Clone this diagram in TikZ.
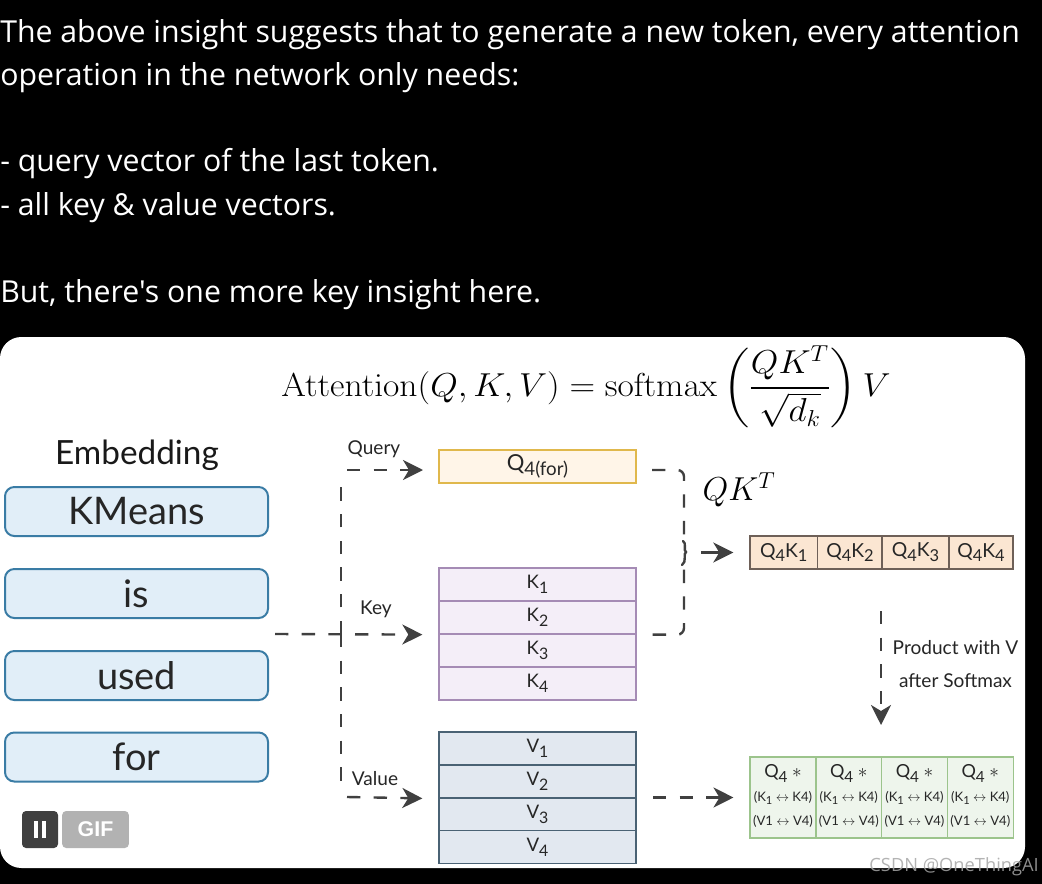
\documentclass[tikz,border=0pt]{standalone}
\usepackage{amsmath}
\usepackage[no-math]{fontspec}
\usetikzlibrary{arrows.meta,calc}
\newfontfamily\uifont{Open Sans}
\newfontfamily\handfont{Lato}
\newfontfamily\badgefont{Liberation Sans}
\newcommand{\sbx}[1]{\raisebox{-0.5ex}{\scalebox{0.85}{#1}}}
\definecolor{boxfill}{HTML}{E1EEF8}
\definecolor{boxline}{HTML}{3A7CA5}
\definecolor{qfill}{HTML}{FFF5E8}
\definecolor{qline}{HTML}{E0B84C}
\definecolor{kfill}{HTML}{F4EEF8}
\definecolor{kline}{HTML}{A58BB5}
\definecolor{vfill}{HTML}{E2E8F0}
\definecolor{vline}{HTML}{4A6274}
\definecolor{pfill}{HTML}{FBE6D2}
\definecolor{pline}{HTML}{6E6058}
\definecolor{gfill}{HTML}{EEF5EC}
\definecolor{gline}{HTML}{9CC48C}
\definecolor{flowc}{HTML}{404040}
\tikzset{
  x=0.75pt,y=-0.75pt,
  uitext/.style={anchor=base west,text=white,inner sep=0pt,font=\uifont\fontsize{22.7pt}{26pt}\selectfont},
  wordbox/.style={draw=boxline,fill=boxfill,line width=1.5pt,rounded corners=7pt,minimum width=197.25pt,minimum height=36.75pt,inner sep=0pt,text=black!85,font=\handfont\fontsize{28.5pt}{30pt}\selectfont},
  rowcell/.style={line width=1pt,minimum width=147.75pt,minimum height=24.75pt,inner sep=0pt,text=black!85,font=\handfont\fontsize{14pt}{15pt}\selectfont},
  qcell/.style={rowcell,draw=qline,fill=qfill,font=\handfont\fontsize{16.5pt}{18pt}\selectfont},
  kcell/.style={rowcell,draw=kline,fill=kfill},
  vcell/.style={rowcell,draw=vline,fill=vfill},
  pcell/.style={draw=pline,fill=pfill,line width=1pt,minimum height=24.75pt,inner sep=0pt,text=black!85,font=\handfont\fontsize{14.5pt}{18pt}\selectfont},
  gcell/.style={draw=gline,fill=gfill,line width=1pt,minimum width=49.3pt,minimum height=60.75pt,inner sep=0pt,text=black!85},
  smalllab/.style={inner sep=0pt,text=black!85,font=\handfont\fontsize{14.3pt}{15pt}\selectfont},
  flow/.style={draw=flowc,line width=1.8pt,dash pattern=on 10pt off 10pt},
  flowtip/.style={-{Stealth[length=15pt,width=15pt,inset=4.5pt]}},
  badge/.style={rounded corners=3pt,inner sep=0pt,minimum height=27.75pt,text=white},
}
\newcommand{\gtext}{\begin{tabular}{@{}c@{}}\fontsize{13.5pt}{14pt}\selectfont Q\sbx{4} $\ast$\\[6pt]\fontsize{9.8pt}{10pt}\selectfont (K\sbx{1} $\leftrightarrow$ K4)\\[6pt]\fontsize{9.8pt}{10pt}\selectfont (V1 $\leftrightarrow$ V4)\end{tabular}}
\begin{document}
\begin{tikzpicture}
\useasboundingbox (0,0) rectangle (1042,884);
\fill[black] (0,0) rectangle (1042,884);
\fill[white,rounded corners=16pt] (0,337) rectangle (1025,868);

\node[uitext] (l1) at (0,43) {The above insight suggests that to generate a new token, every attention};
\node[uitext] (l2) at (0,86) {operation in the network only needs:};
\node[uitext] (l3) at (0,172) {- query vector of the last token.};
\node[uitext] (l4) at (0,216) {- all key \& value vectors.};
\node[uitext] (l5) at (0,302) {But, there's one more key insight here.};

\node[inner sep=0pt,font=\fontsize{24.6pt}{28pt}\selectfont] (formula) at (586,387)
  {\scalebox{1.07}[1]{$\mathrm{Attention}(Q,K,V)=\mathrm{softmax}\left(\dfrac{QK^{T}}{\sqrt{d_k}}\right)V$}};

\node[inner sep=0pt,text=black!90,font=\handfont\fontsize{25pt}{30pt}\selectfont] (emb) at (137,455) {Embedding};
\node[wordbox] (w1) at (136.5,511.5) {KMeans};
\node[wordbox] (w2) at (136.5,593.5) {is};
\node[wordbox] (w3) at (136.5,675.5) {used};
\node[wordbox] (w4) at (136.5,757) {for};

\node[qcell] (q) at (537.5,466.5) {Q\sbx{4(for)}};
\node[kcell] (k1) at (537.5,584.5) {K\sbx{1}};
\node[kcell] (k2) at (537.5,617.5) {K\sbx{2}};
\node[kcell] (k3) at (537.5,650.5) {K\sbx{3}};
\node[kcell] (k4) at (537.5,683.5) {K\sbx{4}};
\node[vcell] (v1) at (537.5,748.5) {V\sbx{1}};
\node[vcell] (v2) at (537.5,781.5) {V\sbx{2}};
\node[vcell] (v3) at (537.5,814.5) {V\sbx{3}};
\node[vcell] (v4) at (537.5,847) {V\sbx{4}};

\node[smalllab] (lq) at (374,449) {Query};
\node[smalllab] (lk) at (376,609) {Key};
\node[smalllab] (lv) at (375,779) {Value};

\node[pcell,minimum width=50.6pt] (p1) at (783.7,552.5) {Q\sbx{4}K\sbx{1}};
\node[pcell,minimum width=48.4pt] (p2) at (850,552.5) {Q\sbx{4}K\sbx{2}};
\node[pcell,minimum width=50.2pt] (p3) at (915.5,552.5) {Q\sbx{4}K\sbx{3}};
\node[pcell,minimum width=48pt] (p4) at (981,552.5) {Q\sbx{4}K\sbx{4}};

\node[gcell] (g1) at (783,797.5) {\handfont\gtext};
\node[gcell] (g2) at (848.8,797.5) {\handfont\gtext};
\node[gcell] (g3) at (914.5,797.5) {\handfont\gtext};
\node[gcell] (g4) at (980.3,797.5) {\handfont\gtext};

\node[inner sep=0pt,font=\fontsize{26pt}{30pt}\selectfont] (qkt) at (739,490) {$QK^{T}$};
\node[smalllab] (m1) at (955.5,648) {Product with V};
\node[smalllab] (m2) at (955.5,680.5) {after Softmax};

% connectors
\coordinate (src) at (275,634);
\coordinate (hub) at (341,634);
\coordinate (qin) at (439,470);
\coordinate (qout) at (636,470);
\coordinate (kin) at (k2.south west);
\coordinate (kout) at (k2.south east);
\coordinate (vin) at (v2.south west);
\coordinate (tip) at (686,552);
\coordinate (down) at (881,611);
\coordinate (qstart) at (347,470);
\coordinate (vstart) at (347,797);
\coordinate (pstart) at (701,552.5);
\coordinate (gstart) at (653,797.5);
\coordinate (gtop) at (881,757);

\draw[flow,flowtip,shorten >=12pt] (src) -- (kin);
\draw[flow] (hub) -- ++(0,-154);
\draw[flow] (hub) -- ++(0,156);
\draw[flow,flowtip,shorten >=12pt] (qstart) -- (qin);
\draw[flow,flowtip,shorten >=12pt] (vstart) -- (vin);

\draw[flow,rounded corners=5pt,shorten <=12pt] (qout) -| (684,546);
\draw[flow,rounded corners=5pt,shorten <=12pt] (kout) -| (684,558);
\draw[flowc,line width=1.8pt,line cap=round] (683,541) .. controls (687,543) and (683,551) .. (tip) .. controls (683,553) and (687,562) .. (682,565);
\draw[flow,flowtip,shorten >=12pt,dash pattern=on 14pt off 0pt] (pstart) -- (p1.west);

\draw[flow,flowtip,shorten >=12pt] (gstart) -- (g1.west);
\draw[flow,flowtip,shorten >=24pt] (down) -- (gtop);

% badge
\node[badge,fill=black!75,minimum width=27pt] (pause) at (40,829.5) {\rule{3pt}{13pt}\hspace{3pt}\rule{3pt}{13pt}};
\node[badge,fill=black!30,minimum width=50pt,font=\badgefont\bfseries\fontsize{16pt}{18pt}\selectfont] (gif) at (95.5,829.5) {GIF};

\node[anchor=base east,inner sep=0pt,text=black!35,opacity=.85,font=\uifont\fontsize{13.7pt}{16pt}\selectfont] (wm) at (1039,871) {CSDN @OneThingAI};
\end{tikzpicture}
\end{document}
